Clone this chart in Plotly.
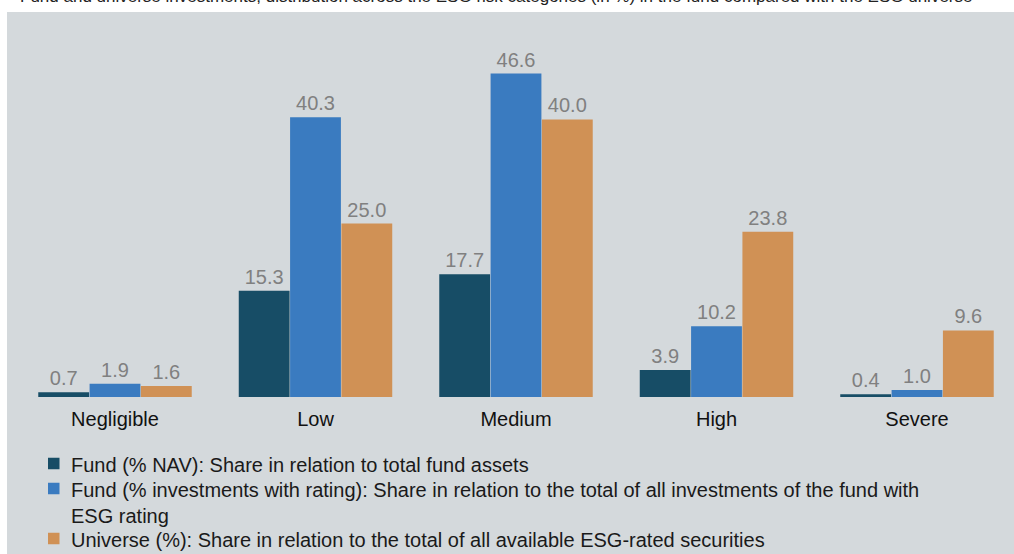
import plotly.graph_objects as go

categories = ["Negligible", "Low", "Medium", "High", "Severe"]
fund_nav = [0.7, 15.3, 17.7, 3.9, 0.4]
fund_rated = [1.9, 40.3, 46.6, 10.2, 1.0]
universe = [1.6, 25.0, 40.0, 23.8, 9.6]

series_names = [
    "Fund (% NAV): Share in relation to total fund assets",
    "Fund (% investments with rating): Share in relation to the total of all investments of the fund with<br>ESG rating",
    "Universe (%): Share in relation to the total of all available ESG-rated securities",
]
series_values = [fund_nav, fund_rated, universe]
series_colors = ["#174d66", "#3a7bc0", "#d09155"]

W, H = 1014, 554
ML, MR, MT, MB = 0, 0, 20, 157
plot_h = H - MT - MB
plot_w = W - ML - MR
px_per_unit = 6.94
ymax = plot_h / px_per_unit
base_y = H - MB

center0 = 115.0
spacing = 200.5
xr = [-(center0 - ML) / spacing, (plot_w - center0 + ML) / spacing]


def px_to_paper_x(px):
    return (px - ML) / plot_w


def px_to_paper_y(py):
    return (base_y - py) / plot_h


fig = go.Figure()
for name, vals, col in zip(series_names, series_values, series_colors):
    fig.add_trace(go.Bar(
        x=list(range(len(categories))), y=vals, name=name,
        marker=dict(color=col, line=dict(width=0)),
        text=[f"{v:.1f}" for v in vals], textposition="outside",
        textfont=dict(family="Liberation Sans, Arial", size=20, color="#808080"),
        cliponaxis=False, showlegend=False,
    ))

# grey panel behind the chart
fig.add_shape(type="rect", xref="paper", yref="paper", layer="below",
              x0=px_to_paper_x(7), x1=1.01,
              y0=px_to_paper_y(H + 5), y1=px_to_paper_y(12),
              fillcolor="#d4d9dc", line=dict(width=0))

# clipped caption at top (only the lower part is visible)
fig.add_annotation(
    text="Fund and universe investments, distribution across the ESG risk categories (in %) in the fund compared with the ESG universe",
    xref="paper", yref="paper", x=px_to_paper_x(18), y=px_to_paper_y(-3),
    xanchor="left", yanchor="middle", showarrow=False,
    font=dict(family="Liberation Sans, Arial", size=17, color="#222222"),
)

# legend (square swatch + text), laid out like the reference
legend_square_y = [463.5, 488.5, 538.5]
legend_text_y = [465, 503, 540]
for name, col, sy, ty in zip(series_names, series_colors, legend_square_y, legend_text_y):
    fig.add_shape(type="rect", xref="paper", yref="paper", layer="above",
                  x0=px_to_paper_x(48), x1=px_to_paper_x(59.5),
                  y0=px_to_paper_y(sy + 5.75), y1=px_to_paper_y(sy - 5.75),
                  fillcolor=col, line=dict(width=0))
    fig.add_annotation(
        text=name, xref="paper", yref="paper",
        x=px_to_paper_x(69), y=px_to_paper_y(ty),
        xanchor="left", yanchor="middle", align="left", showarrow=False,
        font=dict(family="Liberation Sans, Arial", size=20, color="#1a1a1a"),
    )

fig.update_layout(
    width=W, height=H,
    margin=dict(l=ML, r=MR, t=MT, b=MB, pad=0),
    paper_bgcolor="white", plot_bgcolor="rgba(0,0,0,0)",
    barmode="group", bargap=0.232, bargroupgap=0.01,
    font=dict(family="Liberation Sans, Arial", color="#222222"),
    xaxis=dict(
        range=xr, tickmode="array", tickvals=list(range(len(categories))),
        ticktext=categories, showgrid=False, zeroline=False, showline=False,
        ticks="outside", ticklen=4, tickcolor="rgba(0,0,0,0)",
        tickfont=dict(size=20, color="#111111"), fixedrange=True,
    ),
    yaxis=dict(range=[0, ymax], visible=False, fixedrange=True),
    showlegend=False,
)

fig.write_html("out.html", config={"displayModeBar": False},
               post_script="document.body.style.margin='0';")
